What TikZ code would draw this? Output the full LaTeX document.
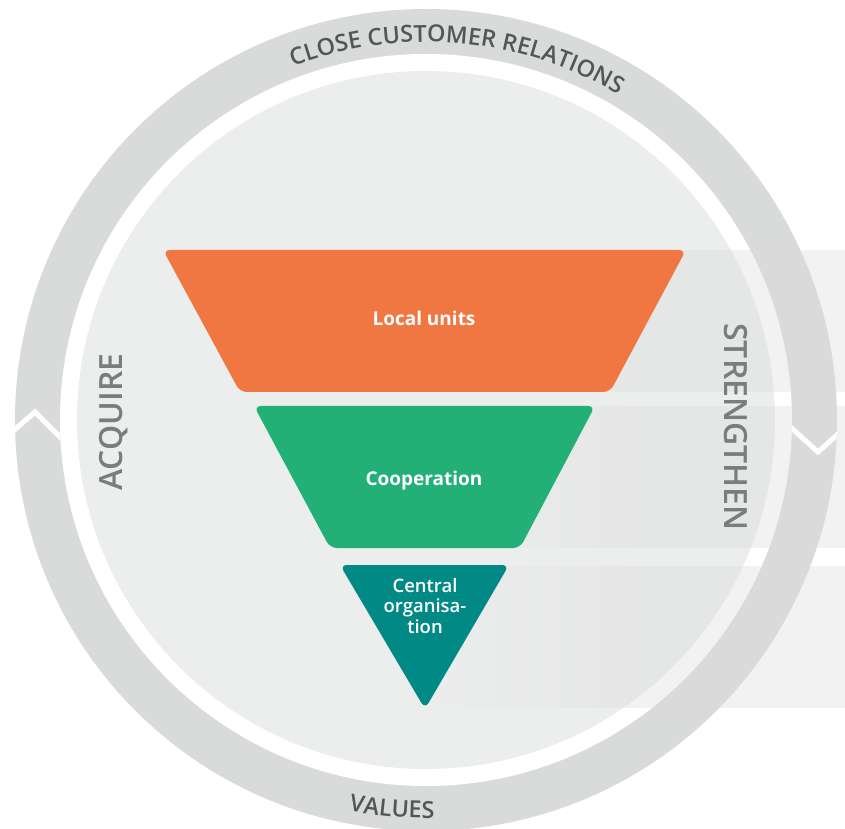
\documentclass[tikz,border=0pt]{standalone}
\usepackage{fontspec}
\setmainfont{Open Sans}
\IfFontExistsTF{Open Sans Semibold}{\newfontfamily\semib{Open Sans Semibold}}{%
  \IfFontExistsTF{Open Sans SemiBold}{\newfontfamily\semib{Open Sans SemiBold}}{%
    \newfontfamily\semib{Open Sans}[FakeBold=1.5]}}
\usetikzlibrary{decorations.text,fadings}
\definecolor{ringc}{HTML}{D9DBDA}
\definecolor{discc}{HTML}{ECEEED}
\definecolor{bandc}{HTML}{D9D9D9}
\definecolor{ringtext}{HTML}{545655}
\definecolor{sidetext}{HTML}{7B7D7C}
\definecolor{orangeU}{RGB}{240,119,66}
\definecolor{greenU}{RGB}{34,176,118}
\definecolor{tealU}{RGB}{0,137,133}
\tikzfading[name=fadein, left color=transparent!100, right color=transparent!0]
\begin{document}
\begin{tikzpicture}[x=1pt,y=1pt,
  levelshape/.style={rounded corners=7pt},
  lab/.style={text=white, font=\bfseries\fontsize{19}{22}\selectfont, align=center},
  bandstyle/.style={fill=bandc, fill opacity=0.32},
  chev/.style={draw=white, line width=5pt, line join=miter},
  side/.style={text=sidetext, font=\semib\fontsize{32}{36}\selectfont, inner sep=0pt}
]
\useasboundingbox (0,0) rectangle (845,828);
\fill[white] (0,0) rectangle (845,828);
\coordinate (c) at (426,408);
\fill[ringc] (c) circle[radius=411];
\fill[white] (c) circle[radius=366];
\fill[discc] (c) circle[radius=349];
% translucent bands
\foreach \ya/\yb in {436/578, 280/422, 120/262} {
  \fill[bandstyle, path fading=fadein] (430,\ya) rectangle (630,\yb);
  \fill[bandstyle] (630,\ya) rectangle (845,\yb);
}
% funnel levels
\fill[orangeU, levelshape] (163,578) -- (686,578) -- (610,436) -- (240,436) -- cycle;
\fill[greenU, levelshape] (254,422) -- (595,422) -- (520,280) -- (330,280) -- cycle;
\fill[tealU, levelshape] (340,263) -- (509,263) -- (425,119) -- cycle;
\node[lab] (local) at (424,510) {Local units};
\node[lab] (coop) at (424,347) {Cooperation};
\node[lab, font=\semib\fontsize{18.5}{20.5}\selectfont] (central) at (425,222) {Central\\organisa-\\tion};
% ring texts
\path[shift={(c)}, decorate, decoration={text along path, text align=center,
  text={|\semib\fontsize{23.5}{28}\selectfont\color{ringtext}|CLOSE CUSTOMER RELATIONS}}]
  (135:378) arc[start angle=135, end angle=35, radius=378];
\path[shift={(c)}, decorate, decoration={text along path, text align=center,
  text={|\semib\fontsize{23.5}{28}\selectfont\color{ringtext}|VALUES}}]
  (235:398) arc[start angle=235, end angle=295, radius=398];
\node[side, rotate=90] (acq) at (113.5,406) {ACQUIRE};
\node[side, rotate=-90] (str) at (736,401) {STRENGTHEN};
% direction chevrons
\begin{scope}[even odd rule]
  \clip (c) circle[radius=411] (c) circle[radius=366];
  \draw[chev] (5,390) -- (35,416) -- (65,386);
  \draw[chev] (788,403) -- (818,376) -- (848,403);
\end{scope}
\end{tikzpicture}
\end{document}
